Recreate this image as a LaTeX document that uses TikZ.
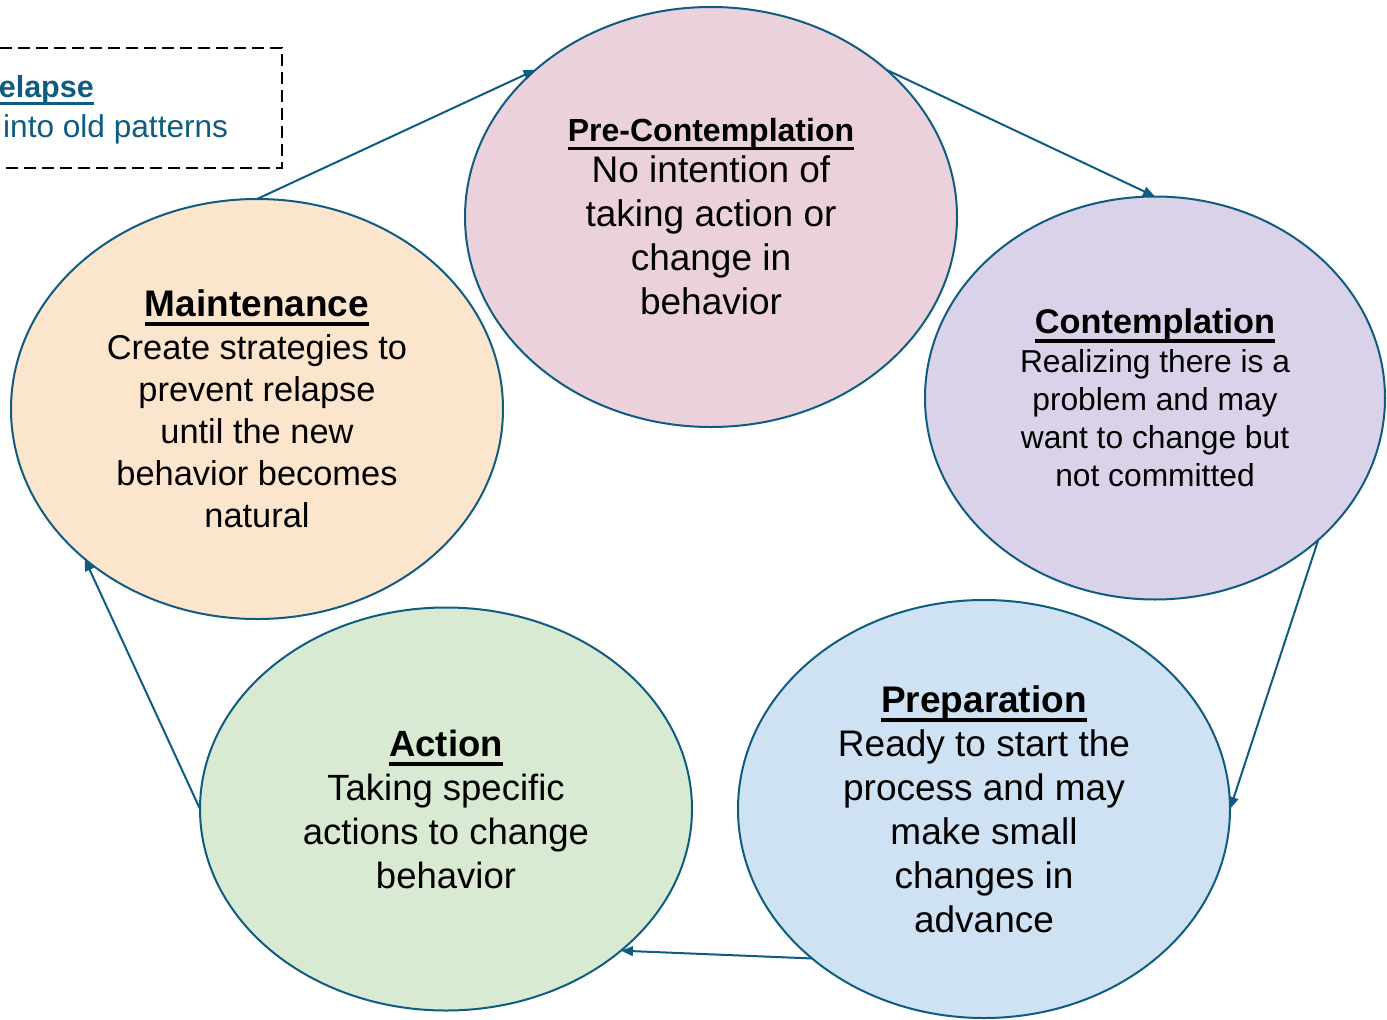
\documentclass[tikz,border=0pt]{standalone}
\usepackage{fontspec}
\setmainfont{Liberation Sans}
\usetikzlibrary{shapes.geometric,arrows.meta}

\definecolor{edge}{RGB}{14,92,128}
\definecolor{precol}{RGB}{234,209,220}
\definecolor{concol}{RGB}{217,210,233}
\definecolor{prepcol}{RGB}{207,226,243}
\definecolor{actcol}{RGB}{217,234,211}
\definecolor{maintcol}{RGB}{252,229,205}

% thick, low underline for the stage titles
\newcommand{\stagehead}[1]{\setbox0\hbox{#1}\rlap{\rule[-0.26em]{\wd0}{0.105em}}\box0}

\begin{document}
\begin{tikzpicture}[x=1pt,y=-1pt,
  stage/.style={ellipse, draw=edge, line width=2pt, inner sep=0pt, outer sep=0pt,
                align=center, text=black},
  link/.style={draw=edge, line width=2pt, -{Triangle[length=12pt,width=9.5pt]}}]
\useasboundingbox (0,0) rectangle (1387,1020);
\clip (0,0) rectangle (1387,1020);

% relapse note, running off the left edge
\node (relapse) [draw=black, line width=1.8pt, dash pattern=on 12pt off 6pt,
  minimum width=420pt, minimum height=120pt, inner sep=0pt, anchor=north east] at (283,47) {};
\node (relapsehead) [anchor=base east, inner sep=0pt, text=edge,
  font=\fontsize{30.5}{38}\selectfont\bfseries] at (94,97) {\stagehead{Relapse}};
\node (relapsetext) [anchor=base west, inner sep=0pt, text=edge,
  font=\fontsize{31.6}{38}\selectfont] at (3,137) {into old patterns};

% the five stages
\node (pre) [stage, fill=precol, minimum width=492pt, minimum height=420pt,
  font=\fontsize{37}{44}\selectfont] at (711,217)
  {{\fontsize{32}{38}\selectfont\bfseries\stagehead{Pre-Contemplation}}\\[-3pt]
   No intention of\\ taking action or\\ change in\\ behavior};

\node (con) [stage, fill=concol, minimum width=460pt, minimum height=403pt,
  font=\fontsize{31.75}{38}\selectfont] at (1155,398)
  {{\fontsize{34.3}{38}\selectfont\bfseries\stagehead{Contemplation}}\\[1pt]
   Realizing there is a\\ problem and may\\ want to change but\\ not committed};

\node (prep) [stage, fill=prepcol, minimum width=492pt, minimum height=418pt,
  font=\fontsize{37}{44}\selectfont] at (984,809)
  {{\bfseries\stagehead{Preparation}}\\
   Ready to start the\\ process and may\\ make small\\ changes in\\ advance};

\node (act) [stage, fill=actcol, minimum width=492pt, minimum height=403pt,
  font=\fontsize{36.5}{44}\selectfont] at (446,809)
  {{\bfseries\stagehead{Action}}\\
   Taking specific\\ actions to change\\ behavior};

\node (maint) [stage, fill=maintcol, minimum width=492pt, minimum height=420pt,
  font=\fontsize{34.4}{42}\selectfont] at (257,409)
  {{\fontsize{37}{42}\selectfont\bfseries\stagehead{Maintenance}}\\[1pt]
   Create strategies to\\ prevent relapse\\ until the new\\ behavior becomes\\ natural};

% the cycle
\draw[link] (maint.90) -- (pre.140);
\draw[link] (pre.40) -- (con.90);
\draw[link] (con.-41) -- (prep.0);
\draw[link] (prep.221) -- (act.-39);
\draw[link] (act.180) -- (maint.221);
\end{tikzpicture}
\end{document}
